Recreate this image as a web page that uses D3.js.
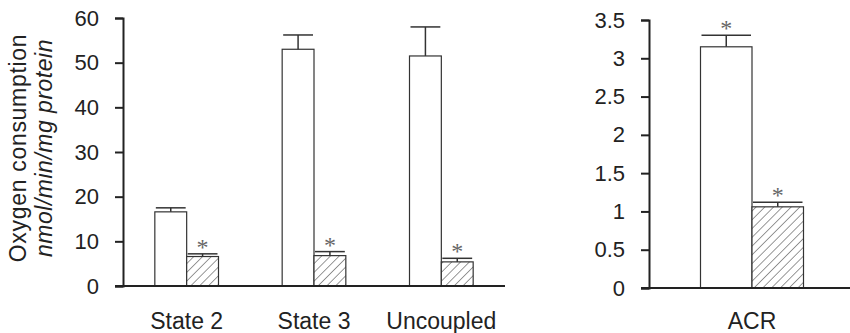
<!DOCTYPE html>
<html>
<head>
<meta charset="utf-8">
<title>Oxygen consumption</title>
<script src="https://d3js.org/d3.v7.min.js"></script>
<style>
body { margin: 0; background: #fff; }
text { font-family: "Liberation Sans", Arial, sans-serif; fill: #222; }
.axis path, .axis line { stroke: #222; stroke-width: 2; }
.axis text { font-size: 22px; fill: #222; }
.bar { stroke: #333; stroke-width: 1.2; }
.err { stroke: #333; stroke-width: 1.5; }
.star { font-family: "Liberation Serif", "Times New Roman", serif; font-size: 24px; fill: #666; text-anchor: middle; }
</style>
</head>
<body>
<svg width="850" height="333"></svg>
<script>
// left panel: oxygen consumption
var categories = ["State 2", "State 3", "Uncoupled"];
var controlMeans = [16.6, 53.0, 51.5];
var controlErrs = [0.9, 3.2, 6.5];
var treatedMeans = [6.6, 6.8, 5.4];
var treatedErrs = [0.6, 0.9, 0.8];
var controlStars = [false, false, false];
var treatedStars = [true, true, true];
var leftTicks = [0, 10, 20, 30, 40, 50, 60];

// right panel: ACR
var acrCategories = ["ACR"];
var acrControlMeans = [3.15];
var acrControlErrs = [0.15];
var acrTreatedMeans = [1.06];
var acrTreatedErrs = [0.06];
var acrControlStars = [true];
var acrTreatedStars = [true];
var rightTicks = [0, 0.5, 1, 1.5, 2, 2.5, 3, 3.5];

var svg = d3.select("svg");

var defs = svg.append("defs");
var pat = defs.append("pattern")
    .attr("id", "hatch")
    .attr("patternUnits", "userSpaceOnUse")
    .attr("width", 6.2)
    .attr("height", 6.2)
    .attr("patternTransform", "rotate(45)");
pat.append("rect").attr("width", 6.2).attr("height", 6.2).attr("fill", "#fff");
pat.append("line")
    .attr("x1", 0).attr("y1", 0).attr("x2", 0).attr("y2", 6.2)
    .attr("stroke", "#444").attr("stroke-width", 1.1);

function drawPanel(p) {
    var y = d3.scaleLinear().domain(p.domain).range(p.yRange);
    var x0 = d3.scaleBand().domain(p.cats).range(p.xRange)
        .paddingInner(p.padIn).paddingOuter(p.padOut);
    var x1 = d3.scaleBand().domain(["control", "treated"]).range([0, x0.bandwidth()]);

    var g = svg.append("g");

    g.append("g")
        .attr("class", "axis")
        .attr("transform", "translate(" + p.xRange[0] + ",0)")
        .call(d3.axisLeft(y).tickValues(p.ticks).tickSize(8).tickPadding(16)
            .tickFormat(function(d) { return String(d); }))
        .call(function(a) { a.selectAll("text").style("font-family", "Liberation Sans, Arial, sans-serif"); });

    var rows = p.cats.map(function(c, i) {
        return [
            {cat: c, key: "control", v: p.ctrl[i], e: p.ctrlErr[i], star: p.ctrlStar[i]},
            {cat: c, key: "treated", v: p.trt[i], e: p.trtErr[i], star: p.trtStar[i]}
        ];
    });
    var flat = [].concat.apply([], rows);

    var bar = g.selectAll(".b").data(flat).enter().append("g")
        .attr("transform", function(d) { return "translate(" + (x0(d.cat) + x1(d.key)) + ",0)"; });

    var w = x1.bandwidth();

    bar.append("rect")
        .attr("class", "bar")
        .attr("x", 0)
        .attr("width", w)
        .attr("y", function(d) { return y(d.v); })
        .attr("height", function(d) { return y(0) - y(d.v); })
        .attr("fill", function(d) { return d.key == "control" ? "#fff" : "url(#hatch)"; });

    bar.append("line")
        .attr("class", "err")
        .attr("x1", w / 2).attr("x2", w / 2)
        .attr("y1", function(d) { return y(d.v); })
        .attr("y2", function(d) { return y(d.v + d.e); });

    bar.append("line")
        .attr("class", "err")
        .attr("x1", 1).attr("x2", w - 1)
        .attr("y1", function(d) { return y(d.v + d.e); })
        .attr("y2", function(d) { return y(d.v + d.e); });

    bar.filter(function(d) { return d.star; }).append("text")
        .attr("class", "star")
        .attr("x", w / 2)
        .attr("y", function(d) { return y(d.v + d.e) + 1; })
        .text("*");

    // baseline
    g.append("line")
        .attr("x1", p.xRange[0] - 8).attr("x2", p.lineEnd)
        .attr("y1", y(0)).attr("y2", y(0))
        .attr("stroke", "#222").attr("stroke-width", 2.2);

    g.selectAll(".cat").data(p.cats).enter().append("text")
        .attr("x", function(d) { return x0(d) + x0.bandwidth() / 2; })
        .attr("y", 329)
        .attr("text-anchor", "middle")
        .style("font-size", "23px")
        .text(function(d) { return d; });
}

drawPanel({
    cats: categories, ctrl: controlMeans, ctrlErr: controlErrs,
    trt: treatedMeans, trtErr: treatedErrs,
    ctrlStar: controlStars, trtStar: treatedStars,
    domain: [0, 60], yRange: [286, 18], ticks: leftTicks,
    xRange: [123, 505], padIn: 0.5, padOut: 0.25, lineEnd: 505
});

drawPanel({
    cats: acrCategories, ctrl: acrControlMeans, ctrlErr: acrControlErrs,
    trt: acrTreatedMeans, trtErr: acrTreatedErrs,
    ctrlStar: acrControlStars, trtStar: acrTreatedStars,
    domain: [0, 3.5], yRange: [288, 20], ticks: rightTicks,
    xRange: [649, 855], padIn: 0, padOut: 0.5, lineEnd: 850
});

// y axis title
var title = svg.append("g").attr("transform", "translate(26,148) rotate(-90)");
title.append("text")
    .attr("text-anchor", "middle")
    .style("font-size", "23px")
    .style("letter-spacing", "0.7px")
    .text("Oxygen consumption");
svg.append("g").attr("transform", "translate(52,148) rotate(-90)")
  .append("text")
    .attr("text-anchor", "middle")
    .style("font-size", "23px")
    .style("font-style", "italic")
    .style("letter-spacing", "0.5px")
    .text("nmol/min/mg protein");
</script>
</body>
</html>
